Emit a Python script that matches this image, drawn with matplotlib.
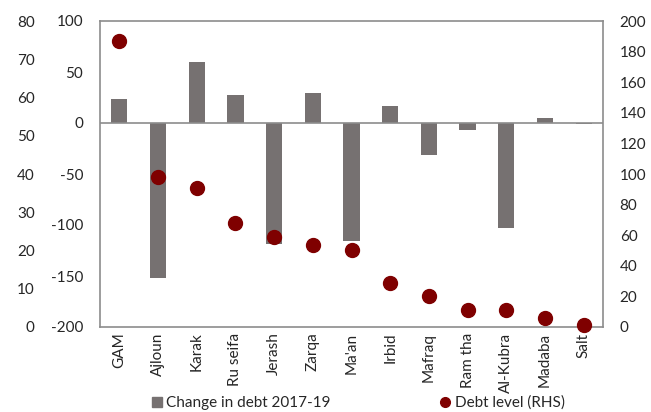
import matplotlib.pyplot as plt
from matplotlib.lines import Line2D

plt.rcParams['font.family'] = ['Lato', 'DejaVu Sans']
plt.rcParams['axes.unicode_minus'] = False

cities = ['GAM', 'Ajloun', 'Karak', 'Ru seifa', 'Jerash', 'Zarqa', "Ma'an",
          'Irbid', 'Mafraq', 'Ram tha', 'Al-Kubra', 'Madaba', 'Salt']
change_debt = [24, -152, 59.5, 27, -119, 29.5, -115.5, 16.5, -31.5, -7, -102.5, 4.5, -1.3]
debt_level = [187, 98, 91, 68, 58.5, 53.5, 50.5, 29, 20, 11, 11, 6, 1]

bar_col = '#767171'
dot_col = '#7f0000'
frame_col = '#8c8c8c'
txt_col = '#262626'
fs = 11

fig = plt.figure(figsize=(6.51, 4.12), dpi=100)
ax = fig.add_axes([100 / 651, 85 / 412, 503 / 651, 306 / 412])
x = range(len(cities))

ax.bar(x, change_debt, width=0.42, color=bar_col, zorder=2)
ax.axhline(0, color=frame_col, linewidth=1.2, zorder=3)
ax.set_ylim(-200, 100)
ax.set_yticks(range(-200, 101, 50))
ax.set_xlim(-0.5, len(cities) - 0.5)
ax.set_xticks(list(x))
ax.set_xticklabels(cities, rotation=90, fontsize=fs, color=txt_col)
ax.tick_params(axis='x', length=0, pad=4)
ax.tick_params(axis='y', length=0, pad=12, labelsize=fs, labelcolor=txt_col)
for s in ax.spines.values():
    s.set_color(frame_col)
    s.set_linewidth(1.2)

# right axis with debt levels
ax2 = ax.twinx()
ax2.scatter(x, debt_level, s=100, color=dot_col, zorder=4, clip_on=False)
ax2.set_ylim(0, 200)
ax2.set_yticks(range(0, 201, 20))
ax2.tick_params(axis='y', length=0, pad=12, labelsize=fs, labelcolor=txt_col)
for s in ax2.spines.values():
    s.set_visible(False)

# stray outer left scale
ax3 = ax.twinx()
ax3.set_ylim(0, 80)
ax3.set_yticks(range(0, 81, 10))
ax3.yaxis.set_ticks_position('left')
ax3.yaxis.set_label_position('left')
ax3.tick_params(axis='y', length=0, pad=47, labelsize=fs, labelcolor=txt_col)
for s in ax3.spines.values():
    s.set_visible(False)

handles = [
    Line2D([], [], marker='s', linestyle='none', color=bar_col, markersize=7),
    Line2D([], [], marker='o', linestyle='none', color=dot_col, markersize=7),
]
fig.legend(handles, ['Change in debt 2017-19', 'Debt level (RHS)'],
           loc='center', bbox_to_anchor=(357 / 651, 1 - 403 / 412), ncol=2,
           frameon=False, fontsize=fs, handletextpad=0.1, columnspacing=7,
           handlelength=1.0, labelcolor=txt_col)

fig.savefig('out.png', dpi=100)
